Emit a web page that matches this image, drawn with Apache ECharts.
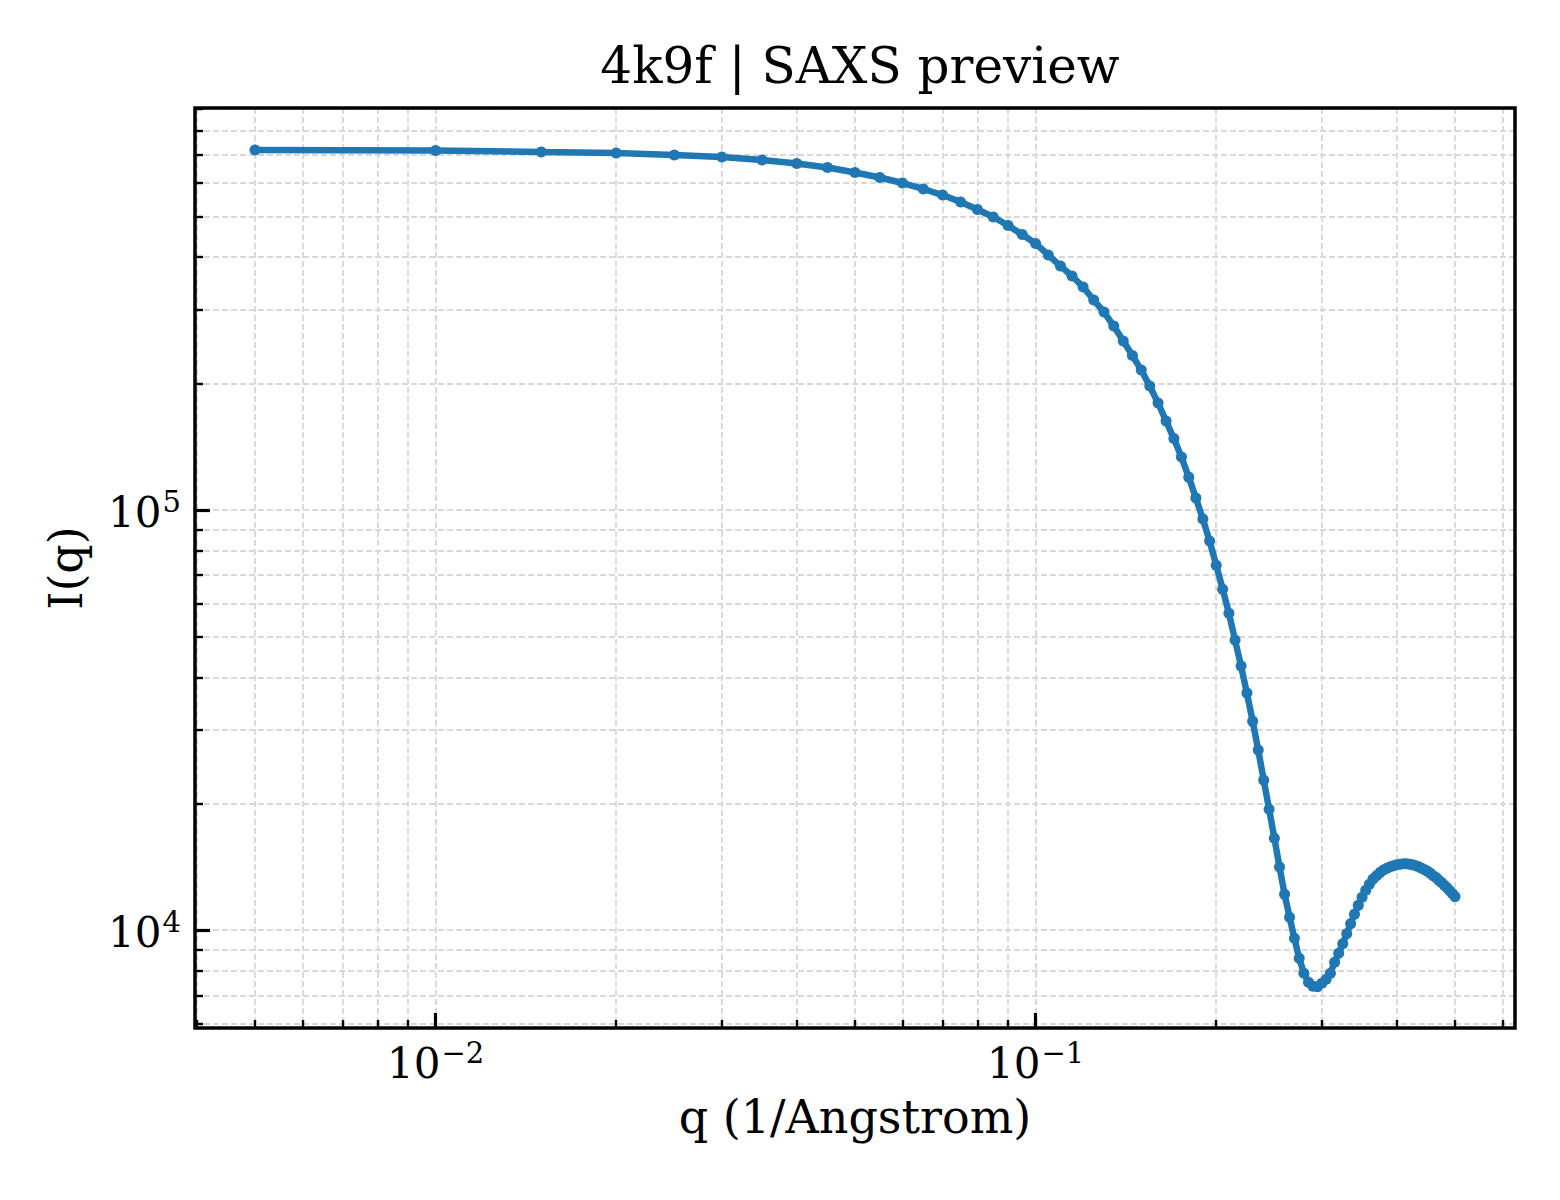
<!DOCTYPE html>
<html>
<head>
<meta charset="utf-8">
<title>4k9f | SAXS preview</title>
<script src="https://cdn.jsdelivr.net/npm/echarts@6/dist/echarts.min.js"></script>
<style>
  html, body { margin: 0; padding: 0; background: #fff; }
  #chart { width: 1560px; height: 1200px; }
</style>
</head>
<body>
<div id="chart"></div>
<script>
// ========== Data ==========
var qValues = [
  0.005, 0.010, 0.015, 0.020, 0.025, 0.030, 0.035, 0.040, 0.045, 0.050,
  0.055, 0.060, 0.065, 0.070, 0.075, 0.080, 0.085, 0.090, 0.095, 0.100,
  0.105, 0.110, 0.115, 0.120, 0.125, 0.130, 0.135, 0.140, 0.145, 0.150,
  0.155, 0.160, 0.165, 0.170, 0.175, 0.180, 0.185, 0.190, 0.195, 0.200,
  0.205, 0.210, 0.215, 0.220, 0.225, 0.230, 0.235, 0.240, 0.245, 0.250,
  0.255, 0.260, 0.265, 0.270, 0.275, 0.280, 0.285, 0.290, 0.295, 0.300,
  0.305, 0.310, 0.315, 0.320, 0.325, 0.330, 0.335, 0.340, 0.345, 0.350,
  0.355, 0.360, 0.365, 0.370, 0.375, 0.380, 0.385, 0.390, 0.395, 0.400,
  0.405, 0.410, 0.415, 0.420, 0.425, 0.430, 0.435, 0.440, 0.445, 0.450,
  0.455, 0.460, 0.465, 0.470, 0.475, 0.480, 0.485, 0.490, 0.495, 0.500
];

var intensity = [
  720000, 717700, 711800, 707900, 700200, 692600, 681300, 668300, 653900, 636200,
  619000, 600600, 581200, 562300, 541200, 519400, 498400, 475700, 452800, 431000,
  404700, 381000, 360700, 339600, 316200, 296100, 274200, 252600, 233300, 215400,
  197300, 179800, 162900, 148000, 133700, 119800, 106800, 95190, 84370, 73950,
  64830, 56830, 49030, 42520, 36670, 31450, 26830, 22760, 19410, 16560,
  14130, 12180, 10740, 9571, 8577, 7901, 7518, 7356, 7336, 7477,
  7643, 7901, 8392, 8816, 9287, 9810, 10360, 10920, 11470, 11980,
  12450, 12870, 13230, 13480, 13710, 13900, 14050, 14160, 14240, 14320,
  14360, 14400, 14400, 14360, 14320, 14240, 14160, 14050, 13930, 13820,
  13670, 13480, 13340, 13150, 12980, 12800, 12620, 12420, 12220, 12020
];

var xMajorTicks = [0.01, 0.1];
var xMinorTicks = [0.004, 0.005, 0.006, 0.007, 0.008, 0.009,
  0.02, 0.03, 0.04, 0.05, 0.06, 0.07, 0.08, 0.09,
  0.2, 0.3, 0.4, 0.5, 0.6];
var yMajorTicks = [10000, 100000];
var yMinorTicks = [6000, 7000, 8000, 9000,
  20000, 30000, 40000, 50000, 60000, 70000, 80000, 90000,
  200000, 300000, 400000, 500000, 600000, 700000, 800000, 900000];

var xRange = [0.003972, 0.6295];
var yRange = [5850, 906000];

// ========== Style ==========
var serif = 'DejaVu Serif';
var ink = '#000000';
var lineBlue = '#1f77b4';
var gridStyle = { color: '#d8d8d8', width: 1.8, type: [6, 3] };

var richLabel = {
  b: { fontFamily: serif, fontSize: 42, color: ink, lineHeight: 46, verticalAlign: 'bottom' },
  e: { fontFamily: serif, fontSize: 29, color: ink, lineHeight: 29, verticalAlign: 'top', padding: [0, 0, 0, 1] }
};

function powLabel(v) {
  var e = Math.round(Math.log10(v));
  return '{b|10}{e|' + (e < 0 ? '\u2212' + (-e) : e) + '}';
}

// ========== Chart ==========
var chart = echarts.init(document.getElementById('chart'), null, { renderer: 'svg' });
chart.setOption({
  animation: false,
  backgroundColor: '#ffffff',
  title: {
    text: '4k9f | SAXS preview',
    left: 855,
    textAlign: 'center',
    top: 36,
    textStyle: { fontFamily: serif, fontSize: 50, fontWeight: 'normal', color: ink }
  },
  grid: {
    left: 195, right: 45, top: 108, bottom: 172,
    show: true, z: 3,
    borderColor: ink, borderWidth: 3.5,
    backgroundColor: 'transparent'
  },
  xAxis: [{
    type: 'log',
    logBase: 10,
    min: xRange[0],
    max: xRange[1],
    position: 'bottom',
    name: 'q (1/Angstrom)',
    nameLocation: 'middle',
    nameGap: 66,
    nameTextStyle: { fontFamily: serif, fontSize: 46, color: ink },
    axisLine: { show: false },
    axisTick: { show: true, inside: true, length: 15, customValues: xMajorTicks, lineStyle: { color: ink, width: 3.2 } },
    axisLabel: { customValues: xMajorTicks, margin: 10, formatter: powLabel, rich: richLabel },
    splitLine: { show: true, lineStyle: gridStyle }
  }, {
    type: 'log',
    logBase: 10,
    min: xRange[0],
    max: xRange[1],
    position: 'bottom',
    axisLine: { show: false },
    axisTick: { show: true, inside: true, length: 8, customValues: xMinorTicks, lineStyle: { color: ink, width: 2.4 } },
    axisLabel: { show: false },
    splitLine: { show: true, lineStyle: gridStyle }
  }],
  yAxis: [{
    type: 'log',
    logBase: 10,
    min: yRange[0],
    max: yRange[1],
    position: 'left',
    name: 'I(q)',
    nameLocation: 'middle',
    nameRotate: 90,
    nameGap: 106,
    nameTextStyle: { fontFamily: serif, fontSize: 46, color: ink },
    axisLine: { show: false },
    axisTick: { show: true, inside: true, length: 15, customValues: yMajorTicks, lineStyle: { color: ink, width: 3.2 } },
    axisLabel: { customValues: yMajorTicks, margin: 14, formatter: powLabel, rich: richLabel },
    splitLine: { show: true, lineStyle: gridStyle }
  }, {
    type: 'log',
    logBase: 10,
    min: yRange[0],
    max: yRange[1],
    position: 'left',
    axisLine: { show: false },
    axisTick: { show: true, inside: true, length: 8, customValues: yMinorTicks, lineStyle: { color: ink, width: 2.4 } },
    axisLabel: { show: false },
    splitLine: { show: true, lineStyle: gridStyle }
  }],
  series: [{
    type: 'line',
    xAxisIndex: 0,
    yAxisIndex: 0,
    data: qValues.map(function(q, i) { return [q, intensity[i]]; }),
    symbol: 'circle',
    symbolSize: 11,
    showSymbol: true,
    lineStyle: { color: lineBlue, width: 6.5 },
    itemStyle: { color: lineBlue, borderWidth: 0 },
    z: 2
  }]
});
window.addEventListener('resize', function() { chart.resize(); });
</script>
</body>
</html>
